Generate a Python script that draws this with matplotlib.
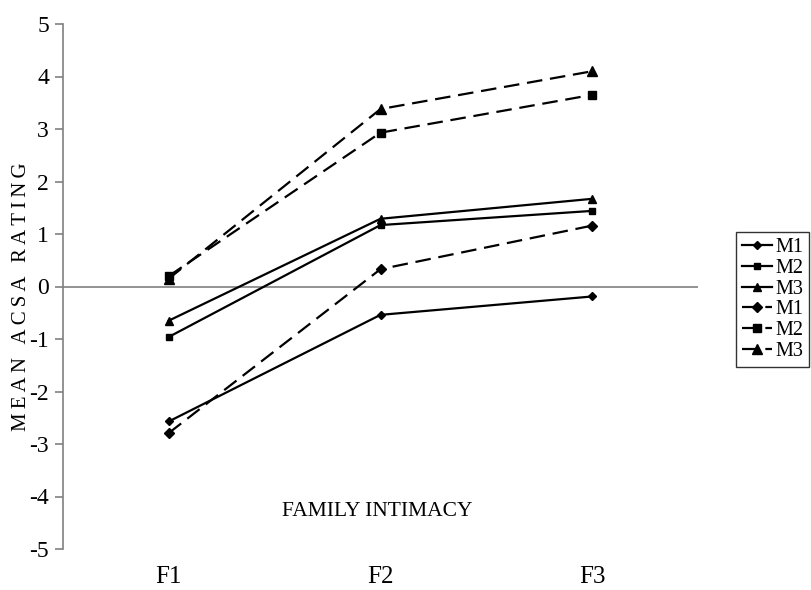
import numpy as np
import matplotlib
matplotlib.use("Agg")
import matplotlib.pyplot as plt

plt.rcParams["font.family"] = ["Liberation Serif", "DejaVu Serif"]
plt.rcParams["axes.unicode_minus"] = False

categories = ["F1", "F2", "F3"]
labels = ["M1", "M2", "M3", "M1", "M2", "M3"]
m1_solid = [-2.57, -0.54, -0.19]
m2_solid = [-0.96, 1.17, 1.44]
m3_solid = [-0.65, 1.29, 1.67]
m1_dash = [-2.79, 0.33, 1.16]
m2_dash = [0.20, 2.93, 3.65]
m3_dash = [0.15, 3.38, 4.10]

series = [m1_solid, m2_solid, m3_solid, m1_dash, m2_dash, m3_dash]
markers = ["D", "s", "^", "D", "s", "^"]
msizes = [4, 5, 5.5, 5.5, 5.5, 7]
styles = ["-", "-", "-", (0, (7, 3.5)), (0, (7, 3.5)), (0, (7, 3.5))]

fig = plt.figure(figsize=(8.11, 5.9), dpi=100)
ax = fig.add_axes([63 / 811, 1 - 549 / 590, (698 - 63) / 811, (549 - 24) / 590])

xpos = np.arange(len(categories))
for vals, mk, ms, ls, lab in zip(series, markers, msizes, styles, labels):
    ax.plot(xpos, vals, color="black", lw=1.6, linestyle=ls, marker=mk,
            markersize=ms, label=lab)

ax.axhline(0, color="#808080", lw=1.2, zorder=0)
ax.set_xlim(-0.5, 2.5)
ax.set_ylim(-5, 5)
ax.set_yticks(range(-5, 6))
ax.set_xticks(xpos)
ax.set_xticklabels(categories)

for s in ["top", "right", "bottom"]:
    ax.spines[s].set_visible(False)
ax.spines["left"].set_color("#808080")
ax.spines["left"].set_linewidth(1.2)
ax.tick_params(axis="y", direction="out", length=6, width=1.2, color="#808080",
               labelsize=17, pad=4)
ax.tick_params(axis="x", length=0, labelsize=18, pad=12)

ylab = "\u2009".join("MEAN") + "\u2009 \u2009" + "\u2009".join("ACSA") + \
    "\u2009 \u2009" + "\u2009".join("RATING")
ax.set_ylabel(ylab, fontsize=15)
ax.yaxis.set_label_coords(-0.05, 0.48)
ax.text(377 / 811, 1 - 512 / 590, "FAMILY INTIMACY", transform=fig.transFigure,
        ha="center", va="center", fontsize=15.5)

leg = fig.legend(loc="upper left", bbox_to_anchor=(736 / 811, 1 - 232 / 590),
                 frameon=True, fancybox=False, fontsize=14.5, handlelength=1.5,
                 handletextpad=0.15, labelspacing=0.08, borderpad=0.3,
                 borderaxespad=0)
leg.get_frame().set_edgecolor("black")
leg.get_frame().set_linewidth(1.0)

fig.savefig("out.png", dpi=100)
